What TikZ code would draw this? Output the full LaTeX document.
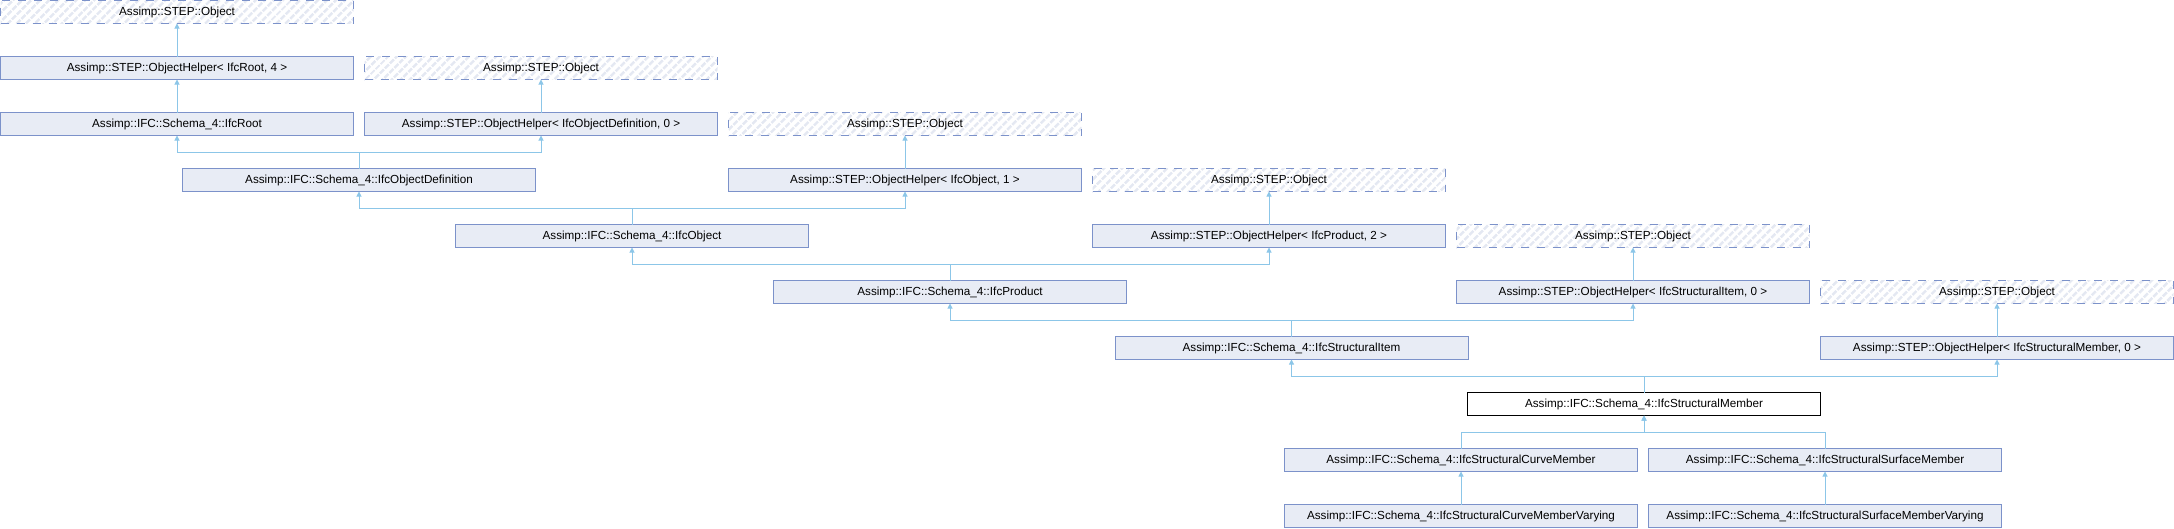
\documentclass[tikz,border=0pt]{standalone}
\usepackage{fontspec}
\setmainfont{Liberation Sans}
\usepackage{tikz}
\usetikzlibrary{positioning, arrows.meta, patterns.meta}

\definecolor{clsfill}{RGB}{232,236,245}
\definecolor{clsborder}{RGB}{124,146,202}
\definecolor{hatchgray}{RGB}{228,232,242}
\definecolor{inhblue}{RGB}{140,198,232}

\tikzset{
  cls/.style={draw=clsborder, fill=clsfill, line width=1pt, minimum width=353pt, minimum height=23pt,
    inner sep=0pt, outer sep=0pt, font=\fontsize{11.7}{14}\selectfont},
  ext/.style={cls, fill=none, dash pattern=on 8pt off 8pt,
    pattern={Lines[angle=45, distance=6.5pt, line width=3pt]}, pattern color=hatchgray},
  cur/.style={cls, draw=black, fill=white},
  inh/.style={draw=inhblue, line width=1pt, -{Triangle[length=5pt, width=5pt]}}
}

\begin{document}
\begin{tikzpicture}[x=1pt, y=-1pt, node distance=33pt]
      \useasboundingbox (0,0) rectangle (2174,528);
      % bases
      \node[ext, anchor=north west] (obj0) at (0.5,0.5) {Assimp::STEP::Object};
      \node[cls, below=of obj0] (ohroot) {Assimp::STEP::ObjectHelper< IfcRoot, 4 >};
      \node[cls, below=of ohroot] (ifcroot) {Assimp::IFC::Schema\_4::IfcRoot};
      \node[ext, anchor=north west] (obj1) at (364.5,56.5) {Assimp::STEP::Object};
      \node[cls, below=of obj1] (ohobjdef) {Assimp::STEP::ObjectHelper< IfcObjectDefinition, 0 >};
      \node[ext, anchor=north west] (obj2) at (728.5,112.5) {Assimp::STEP::Object};
      \node[cls, below=of obj2] (ohobject) {Assimp::STEP::ObjectHelper< IfcObject, 1 >};
      \node[cls, anchor=north west] (objdef) at (182.5,168.5) {Assimp::IFC::Schema\_4::IfcObjectDefinition};
      \node[ext, anchor=north west] (obj3) at (1092.5,168.5) {Assimp::STEP::Object};
      \node[cls, below=of obj3] (ohproduct) {Assimp::STEP::ObjectHelper< IfcProduct, 2 >};
      \node[cls, anchor=north west] (object) at (455.5,224.5) {Assimp::IFC::Schema\_4::IfcObject};
      \node[ext, anchor=north west] (obj4) at (1456.5,224.5) {Assimp::STEP::Object};
      \node[cls, below=of obj4] (ohitem) {Assimp::STEP::ObjectHelper< IfcStructuralItem, 0 >};
      \node[cls, anchor=north west] (product) at (773.5,280.5) {Assimp::IFC::Schema\_4::IfcProduct};
      \node[ext, anchor=north west] (obj5) at (1820.5,280.5) {Assimp::STEP::Object};
      \node[cls, below=of obj5] (ohmember) {Assimp::STEP::ObjectHelper< IfcStructuralMember, 0 >};
      \node[cls, anchor=north west] (item) at (1115,336.5) {Assimp::IFC::Schema\_4::IfcStructuralItem};
      % the class itself
      \node[cur, anchor=north west] (member) at (1467.5,392.5) {Assimp::IFC::Schema\_4::IfcStructuralMember};
      % derived
      \node[cls, anchor=north west] (curve) at (1284.5,448.5) {Assimp::IFC::Schema\_4::IfcStructuralCurveMember};
      \node[cls, below=of curve] (curvevar) {Assimp::IFC::Schema\_4::IfcStructuralCurveMemberVarying};
      \node[cls, anchor=north west] (surface) at (1648.5,448.5) {Assimp::IFC::Schema\_4::IfcStructuralSurfaceMember};
      \node[cls, below=of surface] (surfvar) {Assimp::IFC::Schema\_4::IfcStructuralSurfaceMemberVarying};

      \draw (ohroot) edge[inh] (obj0)
      (ifcroot) edge[inh] (ohroot)
      (ohobjdef) edge[inh] (obj1)
      (ohobject) edge[inh] (obj2)
      (ohproduct) edge[inh] (obj3)
      (ohitem) edge[inh] (obj4)
      (ohmember) edge[inh] (obj5)
      (curvevar) edge[inh] (curve)
      (surfvar) edge[inh] (surface)
      ;
      \draw[inh] (objdef.north) -- ++(0,16pt) -| (ifcroot.south);
      \draw[inh] (objdef.north) -- ++(0,16pt) -| (ohobjdef.south);
      \draw[inh] (object.north) -- ++(0,16pt) -| (objdef.south);
      \draw[inh] (object.north) -- ++(0,16pt) -| (ohobject.south);
      \draw[inh] (product.north) -- ++(0,16pt) -| (object.south);
      \draw[inh] (product.north) -- ++(0,16pt) -| (ohproduct.south);
      \draw[inh] (item.north) -- ++(0,16pt) -| (product.south);
      \draw[inh] (item.north) -- ++(0,16pt) -| (ohitem.south);
      \draw[inh] (member.north) -- ++(0,16pt) -| (item.south);
      \draw[inh] (member.north) -- ++(0,16pt) -| (ohmember.south);
      \draw[inh] (curve.north) -- ++(0,16pt) -| (member.south);
      \draw[inh] (surface.north) -- ++(0,16pt) -| (member.south);
    \end{tikzpicture}
\end{document}
